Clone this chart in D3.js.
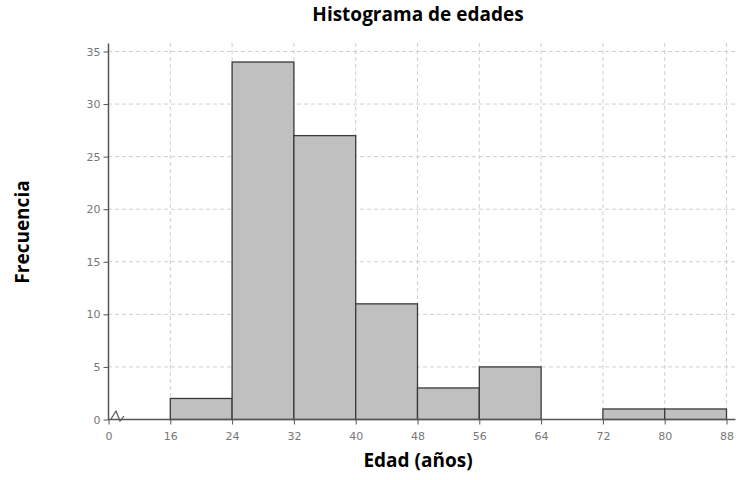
<!DOCTYPE html>
<html>
<head>
<meta charset="utf-8">
<script src="https://cdn.jsdelivr.net/npm/d3@7"></script>
<style>
  body { margin: 0; background: #fff; }
  svg { display: block; }
</style>
</head>
<body>
<svg width="739" height="480"></svg>
<script>
// Intervalos de edad y frecuencias
const binStarts = [16, 24, 32, 40, 48, 56, 64, 72, 80];
const binEnds   = [24, 32, 40, 48, 56, 64, 72, 80, 88];
const frequencies = [2, 34, 27, 11, 3, 5, 0, 1, 1];

// Marcas de los ejes (el eje X está cortado: el 0 se dibuja en lugar del 8)
const xTickValues = [8, 16, 24, 32, 40, 48, 56, 64, 72, 80, 88];
const xTickLabels = ["0", "16", "24", "32", "40", "48", "56", "64", "72", "80", "88"];
const yTickValues = [0, 5, 10, 15, 20, 25, 30, 35];

const svg = d3.select("svg");

const area = { left: 108, right: 726, top: 51, bottom: 419, gridTop: 43, axisRight: 735 };

const x = d3.scaleLinear().domain([8, 88]).range([area.left, area.right]);
const y = d3.scaleLinear().domain([0, 35]).range([area.bottom, area.top]);

// Rejilla discontinua
const grid = svg.append("g").attr("stroke", "#cfcfcf").attr("stroke-dasharray", "4,3");
grid.selectAll(".hgrid")
    .data(yTickValues.filter(d => d > 0))
    .enter().append("line")
    .attr("x1", area.left).attr("x2", area.axisRight)
    .attr("y1", d => y(d) + 0.5).attr("y2", d => y(d) + 0.5);
grid.selectAll(".vgrid")
    .data(xTickValues.filter(d => d > 8))
    .enter().append("line")
    .attr("x1", d => x(d) + 0.5).attr("x2", d => x(d) + 0.5)
    .attr("y1", area.gridTop).attr("y2", area.bottom);

// Barras del histograma
const bins = binStarts.map((s, i) => ({ start: s, end: binEnds[i], freq: frequencies[i] }));
svg.selectAll(".bar")
    .data(bins.filter(d => d.freq > 0))
    .enter().append("rect")
    .attr("x", d => x(d.start) + 0.5)
    .attr("y", d => y(d.freq) + 0.5)
    .attr("width", d => x(d.end) - x(d.start))
    .attr("height", d => y(0) - y(d.freq))
    .attr("fill", "#c0c0c0")
    .attr("stroke", "#3a3a3a")
    .attr("stroke-width", 1.3);

// Ejes
const axisX = d3.axisBottom(x)
    .tickValues(xTickValues)
    .tickFormat((d, i) => xTickLabels[i])
    .tickSize(5)
    .tickSizeOuter(0);
const gx = svg.append("g")
    .attr("transform", `translate(0.5, ${area.bottom + 0.5})`)
    .call(axisX);
gx.select(".domain").attr("d", `M${area.left - 0.5},0H${area.axisRight}`);

const axisY = d3.axisLeft(y)
    .tickValues(yTickValues)
    .tickSize(5)
    .tickSizeOuter(0);
const gy = svg.append("g")
    .attr("transform", `translate(${area.left + 0.5}, 0.5)`)
    .call(axisY);
gy.select(".domain").attr("d", `M0,${area.gridTop}V${area.bottom}`);

svg.selectAll(".domain").attr("stroke", "#555").attr("stroke-width", 1.5);
svg.selectAll(".tick line").attr("stroke", "#555");
svg.selectAll(".tick text")
    .attr("fill", "#777")
    .style("font-family", "'DejaVu Sans', Verdana, sans-serif")
    .style("font-size", "11px");
gx.selectAll(".tick text").attr("dy", "1.1em");

// Símbolo de corte del eje X
const bx = x(8);
svg.append("path")
    .attr("d", `M${bx + 3},${area.bottom} L${bx + 8},${area.bottom - 8} L${bx + 12},${area.bottom + 2} L${bx + 16},${area.bottom - 3}`)
    .attr("fill", "none")
    .attr("stroke", "#555")
    .attr("stroke-width", 1.2);

// Títulos
const titleFont = "'Open Sans', 'Noto Sans', sans-serif";
svg.append("text")
    .attr("x", 418).attr("y", 21)
    .attr("text-anchor", "middle")
    .style("font-family", titleFont).style("font-weight", "bold").style("font-size", "19px")
    .text("Histograma de edades");

svg.append("text")
    .attr("x", 418).attr("y", 467)
    .attr("text-anchor", "middle")
    .style("font-family", titleFont).style("font-weight", "bold").style("font-size", "19px")
    .text("Edad (años)");

svg.append("text")
    .attr("transform", "translate(29, 232) rotate(-90)")
    .attr("text-anchor", "middle")
    .style("font-family", titleFont).style("font-weight", "bold").style("font-size", "19px")
    .text("Frecuencia");
</script>
</body>
</html>
